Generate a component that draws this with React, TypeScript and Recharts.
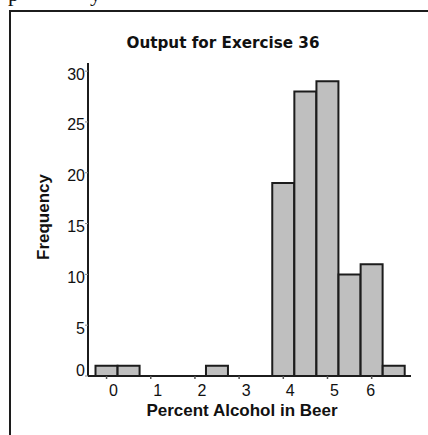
import { ComposedChart, Bar, XAxis, YAxis } from "recharts";

// histogram bins (width 0.5) and counts
const binCenters = [0, 0.5, 1, 1.5, 2, 2.5, 3, 3.5, 4, 4.5, 5, 5.5, 6, 6.5];
const counts = [1, 1, 0, 0, 0, 1, 0, 0, 19, 28, 29, 10, 11, 1];
const xTicks = [0, 1, 2, 3, 4, 5, 6];
const yTicks = [0, 5, 10, 15, 20, 25, 30];

const title = "Output for Exercise 36";
const xTitle = "Percent Alcohol in Beer";
const yTitle = "Frequency";

const data = binCenters.map((x, i) => ({ x, count: counts[i] }));

const W = 428;
const H = 435;
const MARGIN = { top: 63, right: 17, bottom: 29, left: 28 };
const Y_AXIS_W = 60;
const X_AXIS_H = 30;
const X_DOMAIN: [number, number] = [-0.42, 6.89];
const Y_DOMAIN: [number, number] = [0, 30.8];
const BIN_WIDTH = 0.5;
const PLOT_W = W - MARGIN.left - Y_AXIS_W - MARGIN.right;
const PLOT_BOTTOM = H - MARGIN.bottom - X_AXIS_H;
// a hair under the band so recharts doesn't shrink bars to 90%
const BAR_SIZE = ((PLOT_W * BIN_WIDTH) / (X_DOMAIN[1] - X_DOMAIN[0])) * 0.995;

const INK = "#1c1c1c";
const SANS = "'Liberation Sans', Arial, sans-serif";

const XTick = (props: any) => {
  const { x, payload } = props;
  const shift = payload.value === 6 ? -1 : 7;
  return (
    <g>
      <line x1={x} x2={x} y1={PLOT_BOTTOM} y2={PLOT_BOTTOM + 3} stroke="#555" strokeWidth={1.5} />
      <text
        x={x + shift}
        y={PLOT_BOTTOM + 14}
        textAnchor="middle"
        dominantBaseline="central"
        fontFamily={SANS}
        fontSize={16}
        fill="#111"
      >
        {payload.value}
      </text>
    </g>
  );
};

const YTick = (props: any) => {
  const { y, payload } = props;
  const dy = payload.value === 0 ? -6 : 3;
  return (
    <g>
      <line x1={85} x2={88} y1={y} y2={y} stroke="#888" strokeWidth={1} />
      <text
        x={85}
        y={y + dy}
        textAnchor="end"
        dominantBaseline="central"
        fontFamily={SANS}
        fontSize={16}
        fill="#111"
      >
        {payload.value}
      </text>
    </g>
  );
};

export default function App() {
  return (
    <div style={{ position: "absolute", left: 0, top: 0, width: W, height: H, background: "#fff", overflow: "hidden" }}>
      <ComposedChart width={W} height={H} data={data} margin={MARGIN}>
        <XAxis
          xAxisId="b"
          dataKey="x"
          type="number"
          domain={X_DOMAIN}
          ticks={xTicks}
          allowDataOverflow
          height={X_AXIS_H}
          axisLine={{ stroke: INK, strokeWidth: 2 }}
          tickLine={false}
          tick={<XTick />}
        />
        <XAxis
          xAxisId="t"
          orientation="top"
          dataKey="x"
          type="number"
          domain={X_DOMAIN}
          allowDataOverflow
          height={0}
          axisLine={{ stroke: INK, strokeWidth: 2 }}
          tickLine={false}
          tick={false}
        />
        <YAxis
          yAxisId="l"
          type="number"
          domain={Y_DOMAIN}
          ticks={yTicks}
          allowDataOverflow
          width={Y_AXIS_W}
          axisLine={{ stroke: INK, strokeWidth: 2 }}
          tickLine={false}
          tick={<YTick />}
        />
        <YAxis
          yAxisId="r"
          orientation="right"
          type="number"
          domain={Y_DOMAIN}
          allowDataOverflow
          width={0}
          axisLine={{ stroke: INK, strokeWidth: 2 }}
          tickLine={false}
          tick={false}
        />
        <Bar
          xAxisId="b"
          yAxisId="l"
          dataKey="count"
          barSize={BAR_SIZE}
          fill="#bfbfbf"
          stroke={INK}
          strokeWidth={2}
          isAnimationActive={false}
        />
      </ComposedChart>
      <svg
        width={W}
        height={H}
        style={{ position: "absolute", left: 0, top: 0, pointerEvents: "none" }}
      >
        {/* cut-off text from the page above */}
        <text x={8} y={1} fontFamily="'Liberation Serif', serif" fontSize={22} fill="#111">p</text>
        <text x={90} y={1} fontFamily="'Liberation Serif', serif" fontSize={22} fill="#111">y</text>
        {/* outer frame */}
        <line x1={10} x2={10} y1={10} y2={H} stroke={INK} strokeWidth={2} />
        <line x1={9} x2={W} y1={11} y2={11} stroke={INK} strokeWidth={2} />
        <text
          x={223}
          y={43}
          textAnchor="middle"
          dominantBaseline="central"
          fontFamily="'DejaVu Sans', Verdana, sans-serif"
          fontWeight="bold"
          fontSize={15}
          textLength={193}
          lengthAdjust="spacingAndGlyphs"
          fill="#111"
        >
          {title}
        </text>
        <text
          x={242}
          y={410}
          textAnchor="middle"
          dominantBaseline="central"
          fontFamily={SANS}
          fontWeight="bold"
          fontSize={17}
          fill="#111"
        >
          {xTitle}
        </text>
        <text
          x={43}
          y={217}
          textAnchor="middle"
          dominantBaseline="central"
          fontFamily={SANS}
          fontWeight="bold"
          fontSize={17}
          fill="#111"
          transform="rotate(-90 43 217)"
        >
          {yTitle}
        </text>
      </svg>
    </div>
  );
}
